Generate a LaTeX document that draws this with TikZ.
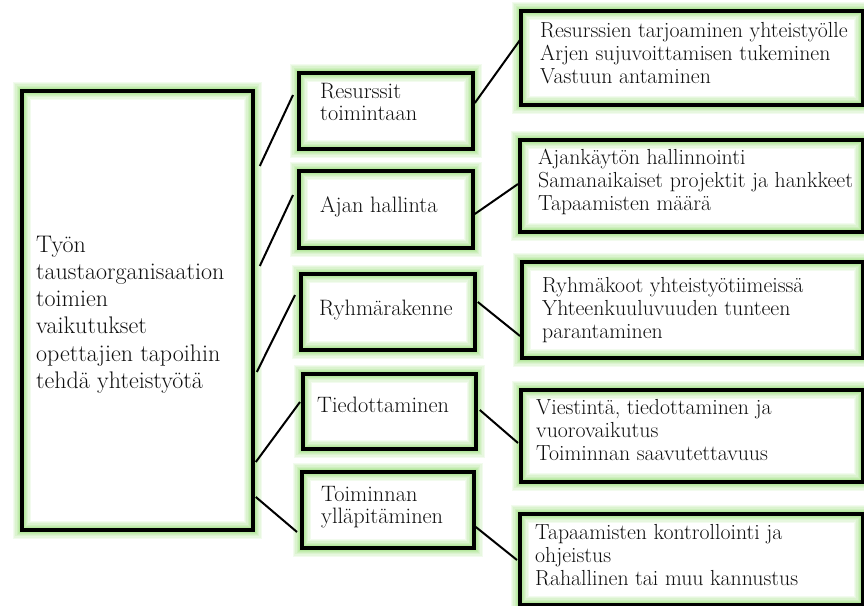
\documentclass[tikz,border=0pt]{standalone}
\usetikzlibrary{calc}
\definecolor{glowc}{RGB}{130,215,90}
\definecolor{txt}{RGB}{15,15,15}
\tikzset{
  glowbox/.style={draw=black, line width=3.8pt, rectangle, inner sep=0pt, anchor=north west,
    preaction={draw=glowc, draw opacity=0.10, line width=18pt},
    preaction={draw=glowc, draw opacity=0.10, line width=15.5pt},
    preaction={draw=glowc, draw opacity=0.12, line width=13pt},
    preaction={draw=glowc, draw opacity=0.14, line width=10.5pt},
    preaction={draw=glowc, draw opacity=0.16, line width=8pt},
    preaction={draw=glowc, draw opacity=0.18, line width=6pt}},
  conn/.style={draw=black, line width=2pt},
  maintext/.style={anchor=base west, inner sep=0pt, align=left, text=txt, font=\fontsize{24}{27.3}\selectfont},
  midtext/.style={anchor=base west, inner sep=0pt, align=left, text=txt, font=\fontsize{22.3}{22}\selectfont},
  righttext/.style={anchor=base west, inner sep=0pt, align=left, text=txt, font=\fontsize{21.8}{22.7}\selectfont},
}
\begin{document}
\begin{tikzpicture}[x=1pt,y=-1pt]
\useasboundingbox (0,0) rectangle (864,605);
% boxes
\node[glowbox, minimum width=231pt, minimum height=439pt] (main) at (20,89) {};
\node[glowbox, minimum width=174pt, minimum height=76pt] (res) at (297,71) {};
\node[glowbox, minimum width=174pt, minimum height=77pt] (ajan) at (297,169) {};
\node[glowbox, minimum width=174pt, minimum height=76pt] (ryh) at (299,272) {};
\node[glowbox, minimum width=173pt, minimum height=75pt] (tie) at (301,372) {};
\node[glowbox, minimum width=172pt, minimum height=76pt] (toi) at (300,470) {};
\node[glowbox, minimum width=342pt, minimum height=94pt] (r1) at (519,9) {};
\node[glowbox, minimum width=343pt, minimum height=92pt] (r2) at (518,138) {};
\node[glowbox, minimum width=341pt, minimum height=96pt] (r3) at (520,260) {};
\node[glowbox, minimum width=342pt, minimum height=92pt] (r4) at (519,388) {};
\node[glowbox, minimum width=343pt, minimum height=91pt] (r5) at (518,512) {};
% texts (anchored at the baseline of the last line)
\node[maintext] (tmain) at (36,388.5) {Työn\\taustaorganisaation\\toimien\\vaikutukset\\opettajien tapoihin\\tehdä yhteistyötä};
\node[midtext] (tres) at (320,120) {Resurssit\\toimintaan};
\node[midtext] (tajan) at (320,212) {Ajan hallinta};
\node[midtext] (tryh) at (319,315) {Ryhmärakenne};
\node[midtext] (ttie) at (317,412) {Tiedottaminen};
\node[midtext] (ttoi) at (321,523) {Toiminnan\\ylläpitäminen};
\node[righttext] (tr1) at (540,83) {Resurssien tarjoaminen yhteistyölle\\Arjen sujuvoittamisen tukeminen\\Vastuun antaminen};
\node[righttext] (tr2) at (538,210) {Ajankäytön hallinnointi\\Samanaikaiset projektit ja hankkeet\\Tapaamisten määrä};
\node[righttext] (tr3) at (542,338) {Ryhmäkoot yhteistyötiimeissä\\Yhteenkuuluvuuden tunteen\\parantaminen};
\node[righttext] (tr4) at (536,460) {Viestintä, tiedottaminen ja\\vuorovaikutus\\Toiminnan saavutettavuus};
\node[righttext] (tr5) at (535,585) {Tapaamisten kontrollointi ja\\ohjeistus\\Rahallinen tai muu kannustus};
% connectors
\draw[conn] ($(main.north east)+(5,77)$) -- ($(res.north west)+(-4,24)$);
\draw[conn] ($(main.north east)+(5,177)$) -- ($(ajan.north west)+(-4,26)$);
\draw[conn] ($(main.north east)+(2,283)$) -- ($(ryh.north west)+(-4,23)$);
\draw[conn] ($(main.north east)+(1,373)$) -- ($(tie.north west)+(-1,30)$);
\draw[conn] ($(main.north east)+(1,408)$) -- ($(toi.north west)+(-3,62)$);
\draw[conn] ($(res.north east)+(0,32)$) -- ($(r1.north west)+(1,31)$);
\draw[conn] ($(ajan.north east)+(0,45)$) -- ($(r2.north west)+(0,46)$);
\draw[conn] ($(ryh.north east)+(1,30)$) -- ($(r3.north west)+(0,76)$);
\draw[conn] ($(tie.north east)+(2,38)$) -- ($(r4.north west)+(-1,55)$);
\draw[conn] ($(toi.north east)+(0,57)$) -- ($(r5.north west)+(-1,48)$);
\end{tikzpicture}
\end{document}
